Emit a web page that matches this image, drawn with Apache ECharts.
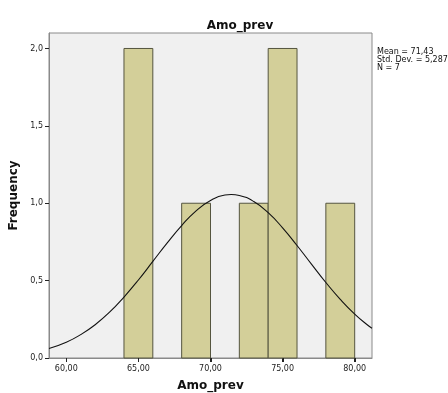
<!DOCTYPE html>
<html>
<head>
<meta charset="utf-8">
<script src="https://cdn.jsdelivr.net/npm/echarts@6/dist/echarts.min.js"></script>
<style>
  html, body { margin: 0; padding: 0; background: #fff; }
  #chart { width: 448px; height: 393px; }
</style>
</head>
<body>
<div id="chart"></div>
<script>
// histogram bins: [from, to, frequency]
const binStarts = [64, 68, 72, 74, 78];
const binEnds = [66, 70, 74, 76, 80];
const frequencies = [2, 1, 1, 2, 1];

// normal curve
const curveX = [58.8, 60, 61, 62, 63, 64, 65, 66, 67, 68, 69, 70, 71, 71.43, 72, 73, 74, 75, 76, 77, 78, 79, 80, 81, 81.2];
const curveY = [0.061, 0.102, 0.151, 0.215, 0.296, 0.394, 0.504, 0.624, 0.744, 0.856, 0.951, 1.018, 1.053, 1.056, 1.05, 1.011, 0.939, 0.841, 0.727, 0.607, 0.488, 0.379, 0.284, 0.205, 0.192];

const xTicks = [60, 65, 70, 75, 80];
const yTicks = [0, 0.5, 1, 1.5, 2];
const statsLines = ["Mean = 71,43", "Std. Dev. = 5,287", "N = 7"];

const font = "DejaVu Sans";
const chart = echarts.init(document.getElementById("chart"));

const axisLineStyle = { show: true, lineStyle: { color: "#8a8a8a", width: 1 } };

const option = {
  animation: false,
  title: {
    text: "Amo_prev",
    left: 235,
    top: 15,
    textAlign: "center",
    textStyle: { fontFamily: font, fontSize: 12, fontWeight: "bold", color: "#111" },
  },
  grid: {
    left: 49,
    right: 76,
    top: 33,
    bottom: 35,
    outerBoundsMode: "none",
    containLabel: false,
    show: true,
    backgroundColor: "#f0f0f0",
    borderColor: "#8a8a8a",
    borderWidth: 1,
  },
  xAxis: {
    type: "value",
    min: 58.8,
    max: 81.2,
    name: "Amo_prev",
    nameLocation: "middle",
    nameGap: 22,
    nameTextStyle: { fontFamily: font, fontSize: 12, fontWeight: "bold", color: "#111" },
    splitLine: { show: false },
    axisLine: axisLineStyle,
    axisTick: { show: true, inside: false, length: 4, customValues: xTicks, lineStyle: { color: "#222", width: 1 } },
    axisLabel: {
      customValues: xTicks,
      fontFamily: font,
      fontSize: 8,
      color: "#222",
      margin: 7,
      formatter: (v) => v.toFixed(2).replace(".", ","),
    },
  },
  yAxis: {
    type: "value",
    min: 0,
    max: 2.1,
    name: "Frequency",
    nameLocation: "middle",
    nameGap: 26,
    nameTextStyle: { fontFamily: font, fontSize: 12, fontWeight: "bold", color: "#111" },
    splitLine: { show: false },
    axisLine: axisLineStyle,
    axisTick: { show: true, inside: false, length: 4, customValues: yTicks, lineStyle: { color: "#222", width: 1 } },
    axisLabel: {
      customValues: yTicks,
      fontFamily: font,
      fontSize: 8,
      color: "#222",
      margin: 6,
      formatter: (v) => v.toFixed(1).replace(".", ","),
    },
  },
  graphic: [
    {
      type: "text",
      left: 377,
      top: 48,
      style: {
        text: statsLines.join("\n"),
        fontFamily: font,
        fontSize: 8,
        lineHeight: 8,
        fill: "#111",
      },
    },
  ],
  series: [
    {
      type: "custom",
      data: binStarts.map((s, i) => [s, binEnds[i], frequencies[i]]),
      renderItem: (params, api) => {
        const p0 = api.coord([api.value(0), api.value(2)]);
        const p1 = api.coord([api.value(1), 0]);
        return {
          type: "rect",
          shape: { x: p0[0], y: p0[1], width: p1[0] - p0[0], height: p1[1] - p0[1] },
          style: { fill: "#d3cf99", stroke: "#55553f", lineWidth: 1 },
        };
      },
      z: 2,
    },
    {
      type: "line",
      data: curveX.map((x, i) => [x, curveY[i]]),
      smooth: true,
      showSymbol: false,
      lineStyle: { color: "#111", width: 1.1 },
      z: 3,
    },
    {
      // x axis tick marks placed through the axis scale
      type: "custom",
      clip: false,
      silent: true,
      data: xTicks.map((v) => [v, 0]),
      renderItem: (params, api) => {
        const p = api.coord([api.value(0), 0]);
        const x = Math.round(p[0]) + 0.5;
        return {
          type: "line",
          shape: { x1: x, y1: p[1], x2: x, y2: p[1] + 4 },
          style: { stroke: "#222", lineWidth: 1 },
        };
      },
      z: 4,
    },
  ],
};

chart.setOption(option);
</script>
</body>
</html>
